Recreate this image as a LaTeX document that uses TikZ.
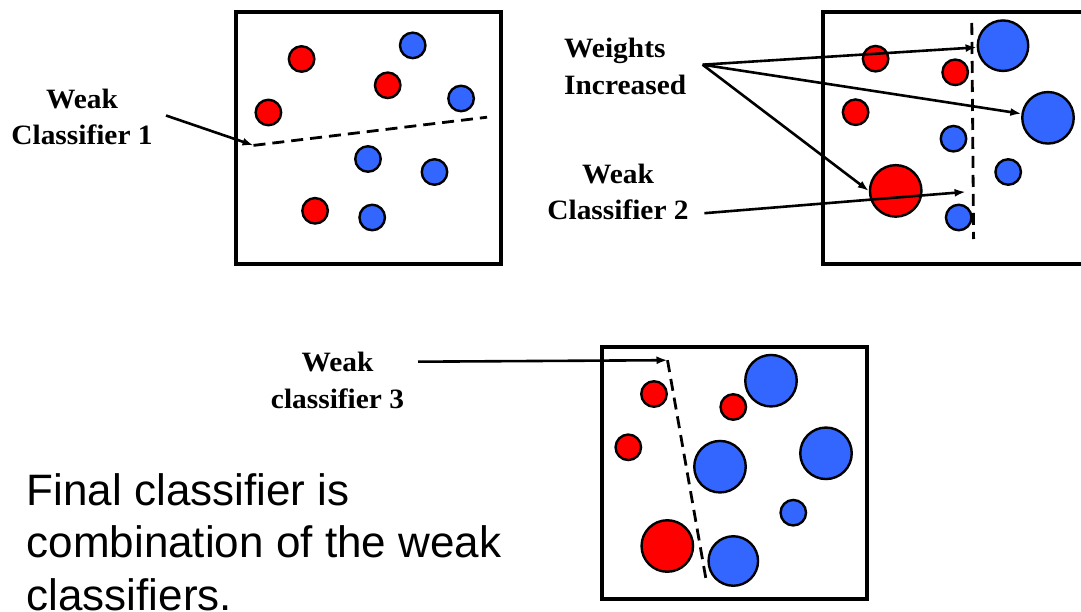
\documentclass[tikz,border=0pt]{standalone}
\usepackage{fontspec}
\setmainfont{Liberation Serif}
\newfontfamily\lblfont[FakeStretch=1.05]{Liberation Serif}
\newfontfamily\arialf{Liberation Sans}
\usetikzlibrary{arrows.meta}
\definecolor{ptred}{HTML}{FF0000}
\definecolor{ptblue}{HTML}{3366FF}
\begin{document}
\begin{tikzpicture}[x=1pt,y=-1pt,
  frame/.style={draw, line width=4pt},
  pt/.style={circle, draw, line width=2.4pt, inner sep=0pt},
  sm/.style={pt, minimum size=25.5pt},
  lg/.style={pt, minimum size=51.5pt},
  rd/.style={fill=ptred},
  bl/.style={fill=ptblue},
  sepline/.style={line width=2.8pt, dash pattern=on 12pt off 7pt},
  arr/.style={line width=2.6pt, -{Latex[length=11pt,width=8pt]}},
  lbl/.style={font=\lblfont\bfseries\fontsize{28}{36.5}\selectfont, inner sep=0pt, align=center, anchor=base},
  fin/.style={font=\arialf\fontsize{44}{52.5}\selectfont, inner sep=0pt, align=left, anchor=base west}]
\useasboundingbox (0,0) rectangle (1081,612);
\clip (0,0) rectangle (1081,612);

% ---- frames
\draw[frame] (235.5,12.5) rectangle (501,264.5);
\draw[frame] (822.5,12.5) rectangle (1095,264.5);
\draw[frame] (602,346.5) rectangle (866.7,598.7);

% ---- box 1
\node[sm,rd] (a1) at (301.6,59) {};
\node[sm,bl] (a2) at (412.7,45.4) {};
\node[sm,rd] (a3) at (387.7,85.3) {};
\node[sm,bl] (a4) at (461.1,98.5) {};
\node[sm,rd] (a5) at (268.4,112.5) {};
\node[sm,bl] (a6) at (368,159) {};
\node[sm,bl] (a7) at (434.5,172) {};
\node[sm,rd] (a8) at (315.1,210.8) {};
\node[sm,bl] (a9) at (372.2,217.5) {};
\coordinate (d1a) at (253.5,145.4);
\coordinate (d1b) at (487.1,117.2);
\draw[sepline] (d1a) -- (d1b);

% ---- box 2
\node[sm,rd] (b1) at (875.6,58.7) {};
\node[sm,rd] (b2) at (955.2,72.3) {};
\node[sm,rd] (b3) at (855.6,112.2) {};
\node[lg,bl,minimum size=50.5pt] (b4) at (1003,45.7) {};
\node[lg,bl] (b5) at (1048,117.8) {};
\node[sm,bl] (b6) at (953.5,138.7) {};
\node[sm,bl] (b7) at (1008.2,172) {};
\node[lg,rd] (b8) at (895.7,190.9) {};
\node[sm,bl] (b9) at (958.7,217.5) {};
\coordinate (d2a) at (971.8,23);
\coordinate (d2b) at (973.6,239);
\draw[sepline] (d2a) -- (d2b);

% ---- box 3
\node[sm,rd] (c1) at (654,394) {};
\node[sm,rd] (c2) at (628.3,447.3) {};
\node[sm,rd] (c3) at (733.3,407) {};
\node[lg,bl] (c4) at (771,380.7) {};
\node[lg,bl] (c5) at (720,466.7) {};
\node[lg,bl] (c6) at (826,453.3) {};
\node[sm,bl] (c7) at (793.3,512.7) {};
\node[lg,rd] (c8) at (667.3,546) {};
\node[lg,bl,minimum size=49.5pt] (c9) at (733.3,561) {};
\coordinate (d3a) at (667.5,360.2);
\coordinate (d3b) at (706.7,583.3);
\draw[sepline] (d3a) -- (d3b);

% ---- labels (anchor = baseline of the last line)
\node[lbl] (l1) at (82,145) {Weak\\Classifier 1};
\node[lbl, align=left, anchor=base west] (l2) at (564,94.3) {Weights\\Increased};
\node[lbl] (l3) at (618,220) {Weak\\Classifier 2};
\node[lbl] (l4) at (337.5,408.3) {Weak\\classifier 3};
\node[fin] (l5) at (26.5,610) {Final classifier is\\combination of the weak\\classifiers.};

% ---- arrows
\coordinate (s1) at (166,115.5);
\coordinate (s2) at (702.6,64.7);
\coordinate (s3) at (704.4,213.2);
\coordinate (t3) at (965.6,191.9);
\coordinate (s4) at (418,361.7);
\draw[arr] (s1) -- (d1a);
\draw[arr] (s2) -- (b4);
\draw[arr] (s2) -- (b5);
\draw[arr] (s2) -- (b8.west);
\draw[arr] (s3) -- (t3);
\draw[arr] (s4) -- (d3a);
\end{tikzpicture}
\end{document}
